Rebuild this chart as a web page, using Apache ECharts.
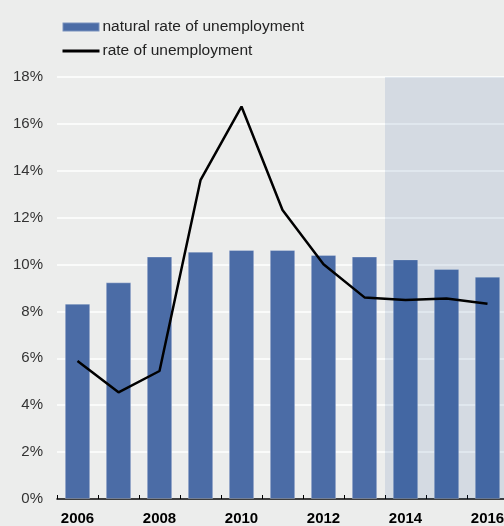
<!DOCTYPE html>
<html>
<head>
<meta charset="utf-8">
<script src="https://cdn.jsdelivr.net/npm/echarts@6/dist/echarts.min.js"></script>
<style>
html,body{margin:0;padding:0;background:#ecedec;overflow:hidden;}
#chart{width:508px;height:526px;}
</style>
</head>
<body>
<div id="chart"></div>
<script>
const years = ['2006','2007','2008','2009','2010','2011','2012','2013','2014','2015','2016'];
const naturalRate = [8.33, 9.24, 10.34, 10.55, 10.62, 10.62, 10.41, 10.34, 10.22, 9.81, 9.48];
const unemploymentRate = [5.89, 4.55, 5.46, 13.6, 16.74, 12.33, 10.01, 8.6, 8.49, 8.55, 8.33];
const forecastStart = '2014';
const yMin = 0, yMax = 18, yStep = 2;
const seriesNames = ['natural rate of unemployment', 'rate of unemployment'];

const startIdx = years.indexOf(forecastStart);
const shadeData = years.map((y, i) => i >= startIdx ? yMax : null);

const font = 'Liberation Sans, Arial, Helvetica, sans-serif';
const chart = echarts.init(document.getElementById('chart'), null, {renderer: 'canvas'});
chart.setOption({
  backgroundColor: '#ecedec',
  animation: false,
  textStyle: {fontFamily: font},
  legend: {
    orient: 'vertical',
    left: 56,
    top: 14,
    itemWidth: 37,
    itemHeight: 9,
    itemGap: 8,
    textStyle: {fontSize: 15.5, color: '#222', fontFamily: font, padding: [0, 0, 0, -2]},
    data: [
      {name: seriesNames[0], icon: 'rect'},
      {name: seriesNames[1], itemStyle: {opacity: 0}, lineStyle: {width: 3, color: '#000'}}
    ]
  },
  grid: {left: 57, right: 0, top: 77, bottom: 27, containLabel: false},
  xAxis: [{
    type: 'category',
    data: years,
    boundaryGap: true,
    axisLine: {lineStyle: {color: '#000', width: 1.5}},
    axisTick: {show: true, inside: true, length: 4, interval: 0, lineStyle: {color: '#000', width: 1}},
    axisLabel: {interval: 1, color: '#000', fontWeight: 'bold', fontSize: 15, margin: 12, fontFamily: font},
    splitLine: {show: false}
  }, {
    type: 'category',
    data: years,
    boundaryGap: true,
    show: false
  }],
  yAxis: {
    type: 'value',
    min: yMin, max: yMax, interval: yStep,
    axisLine: {show: false},
    axisTick: {show: false},
    axisLabel: {formatter: '{value}%', color: '#333', fontSize: 15, margin: 14, fontFamily: font},
    splitLine: {lineStyle: {color: '#ffffff', width: 1.5}}
  },
  series: [
    {
      name: seriesNames[0],
      type: 'bar',
      data: naturalRate,
      barCategoryGap: '38%',
      itemStyle: {color: '#4b6ca6', borderColor: 'rgba(255,255,255,0.25)', borderWidth: 1},
      z: 2
    },
    {
      name: 'shade',
      type: 'bar',
      xAxisIndex: 1,
      data: shadeData,
      barWidth: '100%',
      itemStyle: {color: 'rgba(0,57,136,0.1)'},
      silent: true,
      z: 3
    },
    {
      name: seriesNames[1],
      type: 'line',
      data: unemploymentRate,
      symbol: 'none',
      lineStyle: {color: '#000', width: 2.5},
      itemStyle: {color: '#000'},
      z: 4
    }
  ]
});
</script>
</body>
</html>
